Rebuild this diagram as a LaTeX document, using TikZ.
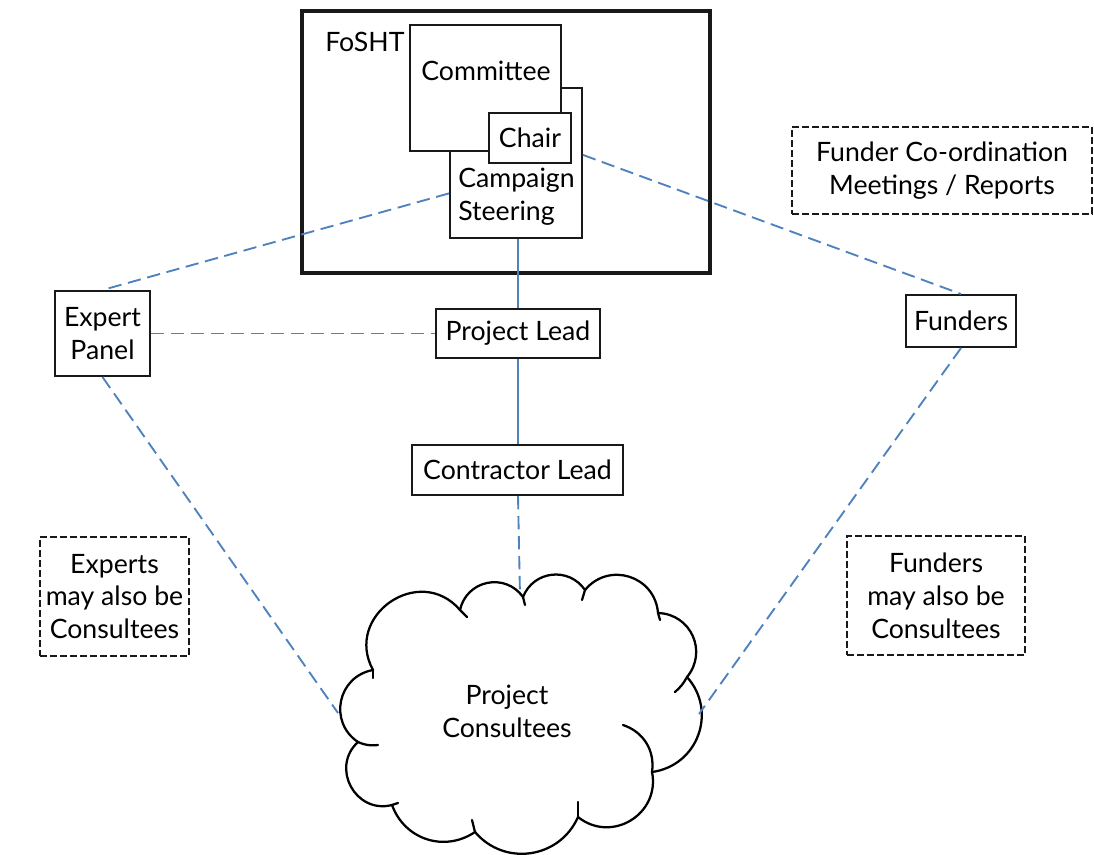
\documentclass[tikz,border=0pt]{standalone}
\usepackage{fontspec}
\setmainfont{Lato}
\usetikzlibrary{calc}
\definecolor{linkblue}{RGB}{79,129,189}
\definecolor{boxline}{RGB}{25,25,25}
\begin{document}
\begin{tikzpicture}[x=0.75pt,y=-0.75pt,
  every node/.style={font=\fontsize{20}{24.6}\selectfont, text=black},
  sz/.style 2 args={minimum width={#1*0.75pt}, minimum height={#2*0.75pt}},
  box/.style={draw=boxline, line width=1.5pt, fill=white, inner sep=0pt, align=center},
  note/.style={draw=boxline, line width=1.1pt, dash pattern=on 5pt off 2.5pt, inner sep=0pt, align=center},
  link/.style={draw=linkblue, line width=1.4pt, dash pattern=on 10pt off 5pt},
  solidlink/.style={draw=linkblue, line width=1.4pt},
  cloudline/.style={draw=black, line width=1.7pt, line cap=round, line join=round},
  plain/.style={inner sep=0pt}]
\useasboundingbox (0,0) rectangle (1094,855);

% FoSHT group
\node[box, line width=2.6pt, fill=none, sz={408}{262}] (fosht) at (506,142) {};
\node[plain, anchor=west] (foshtlabel) at (325,42) {FoSHT};
\node[box, sz={132}{150}] (cs) at (516,163) {};
\node[plain, anchor=west, align=left] (cstext) at (458,197) {Campaign\\Steering};
\node[box, sz={151}{126}] (committee) at (485.5,88) {};
\node[plain] (committeetext) at (486,71) {Committee};
\node[box, sz={82}{50}] (chair) at (530,138) {Chair};

% other boxes
\node[box, sz={95}{85}] (expert) at (102.5,333.5) {Expert\\Panel};
\node[box, sz={164}{49}] (plead) at (518,333.5) {Project Lead};
\node[box, sz={211}{50}] (clead) at (517.5,470) {Contractor Lead};
\node[box, sz={110}{52}] (funders) at (961,321) {Funders};

% notes
\node[note, sz={300}{87}] (fcm) at (942,170.5) {Funder Co-ordination\\Meetings / Reports};
\node[note, sz={149}{119}] (expnote) at (114.5,596.5) {Experts\\may also be\\Consultees};
\node[note, sz={178}{119}] (funnote) at (936,595.5) {Funders\\may also be\\Consultees};

% cloud
\draw[cloudline] (358,742)
  to[bend left=68, looseness=1.25] (373,670)
  to[bend left=84, looseness=1.5] (460,610)
  to[bend left=66, looseness=1.22] (523,597)
  to[bend left=62, looseness=1.17] (585,590)
  to[bend left=68, looseness=1.25] (658,613)
  to[bend left=64, looseness=1.2] (687,677)
  to[bend left=62, looseness=1.17] (652,772)
  to[bend left=70, looseness=1.27] (578,817)
  to[bend left=58, looseness=1.12] (475,832)
  to[bend left=52, looseness=1.08] (392,805)
  to[bend left=76, looseness=1.35] (358,742);
\draw[cloudline] (358,742) to[bend right=15] (378,745);
\draw[cloudline] (373,670) -- (373,678);
\draw[cloudline] (460,610) -- (467,617);
\draw[cloudline] (523,597) -- (525,605);
\draw[cloudline] (585,590) -- (582,600);
\draw[cloudline] (658,613) -- (660,620);
\draw[cloudline] (687,677) to[bend left=10] (675,692);
\draw[cloudline] (623,725) to[bend left=40] (652,772);
\draw[cloudline] (578,817) -- (578,802);
\draw[cloudline] (475,832) -- (472,820);
\draw[cloudline] (392,805) -- (398,803);
\node[plain, align=center] (consultees) at (507,711) {Project\\Consultees};

\coordinate (cloudtop) at (520,596);
\coordinate (cloudleft) at (338,713);
\coordinate (cloudright) at (699,714);

% connectors
\draw[link] ($(cs.north west)!0.7!(cs.south west)$) -- (expert.north);
\draw[link] ($(cs.north east)!0.447!(cs.south east)$) -- (funders.north);
\draw[link] (expert.east) -- (plead.west);
\draw[solidlink] (plead.north |- cs.south) -- (plead.north);
\draw[solidlink] (plead.south) -- (plead.south |- clead.north);
\draw[link] (plead.south |- clead.south) -- (cloudtop);
\draw[link] (expert.south) -- (cloudleft);
\draw[link] (funders.south) -- (cloudright);
\end{tikzpicture}
\end{document}
